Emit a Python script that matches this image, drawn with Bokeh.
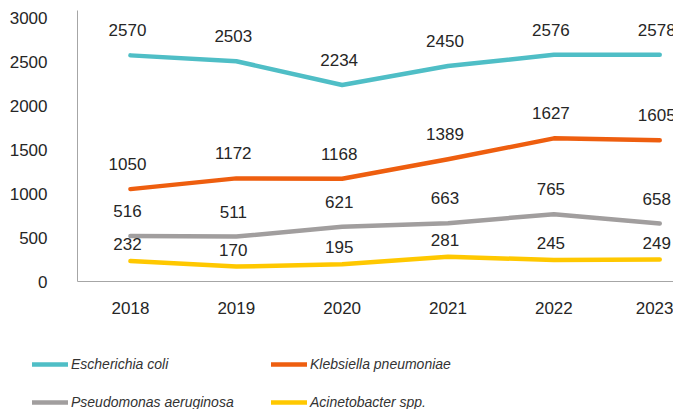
from bokeh.plotting import figure
from bokeh.layouts import column, row
from bokeh.models import (ColumnDataSource, Range1d, FixedTicker, Legend, LegendItem)
from bokeh.core.properties import value
from bokeh.embed import file_html
from bokeh.resources import INLINE

years = ["2018", "2019", "2020", "2021", "2022", "2023"]
ecoli = [2570, 2503, 2234, 2450, 2576, 2578]
klebsiella = [1050, 1172, 1168, 1389, 1627, 1605]
pseudomonas = [516, 511, 621, 663, 765, 658]
acinetobacter = [232, 170, 195, 281, 245, 249]
y_ticks = [0, 500, 1000, 1500, 2000, 2500, 3000]

series = [
    ("Escherichia coli", ecoli, "#4FBEC6", -25),
    ("Klebsiella pneumoniae", klebsiella, "#EE5E0F", -25),
    ("Pseudomonas aeruginosa", pseudomonas, "#A19E9E", -25),
    ("Acinetobacter spp.", acinetobacter, "#FFC800", -17),
]

xpos = [i + 0.5 for i in range(len(years))]
font = "Liberation Sans"

p = figure(width=673, height=330, output_backend="svg", toolbar_location=None,
           x_range=Range1d(0, 5.63), y_range=Range1d(0, 3080),
           min_border_left=77, min_border_right=0, min_border_top=10,
           min_border_bottom=49)
p.outline_line_color = None
p.xgrid.visible = False
p.ygrid.visible = False

for ax in (p.xaxis[0], p.yaxis[0]):
    ax.axis_line_color = "#A6A6A6"
    ax.axis_line_width = 1
    ax.major_tick_out = 0
    ax.major_tick_in = 0
    ax.minor_tick_out = 0
    ax.minor_tick_in = 0
    ax.major_label_text_font = font
    ax.major_label_text_font_size = "17px"
    ax.major_label_text_color = "#262626"

p.yaxis.ticker = FixedTicker(ticks=y_ticks)
p.yaxis.major_label_standoff = 30
p.xaxis.ticker = FixedTicker(ticks=xpos)
p.xaxis.major_label_overrides = {x: y for x, y in zip(xpos, years)}
p.xaxis.major_label_standoff = 20

# legend strip below the chart
pl = figure(width=673, height=79, output_backend="svg", toolbar_location=None,
            x_range=Range1d(0, 5.63), y_range=Range1d(-20000, -10000),
            x_axis_location=None, y_axis_location=None,
            min_border_left=0, min_border_right=0, min_border_top=0,
            min_border_bottom=0)
pl.outline_line_color = None
pl.xgrid.visible = False
pl.ygrid.visible = False

row1, row2 = [], []
for k, (name, vals, color, yoff) in enumerate(series):
    src = ColumnDataSource(dict(x=xpos, y=vals, t=[str(v) for v in vals]))
    p.line("x", "y", source=src, line_color=color, line_width=4.5,
           line_cap="round", line_join="round")
    p.text("x", "y", text="t", source=src, x_offset=-3, y_offset=yoff,
           text_align="center", text_baseline="middle",
           text_font=value(font), text_font_size="17px", text_color="#262626")
    lr = pl.line("x", "y", source=src, line_color=color, line_width=4.5,
                 line_cap="round")
    (row1 if k < 2 else row2).append(LegendItem(label=name, renderers=[lr]))

for items, vy in ((row1, 35), (row2, -3)):
    lg = Legend(items=items, location=(32, vy), orientation="horizontal",
                padding=0, margin=0, border_line_color=None, spacing=18,
                background_fill_alpha=0, glyph_width=36, glyph_height=20,
                label_height=20, label_width=182, label_standoff=3,
                label_text_font=font, label_text_font_size="14px",
                label_text_font_style="italic", label_text_color="#333333")
    pl.add_layout(lg, "center")

open("out.html", "w").write(file_html(column(p, row(pl, spacing=0), spacing=0), INLINE))
